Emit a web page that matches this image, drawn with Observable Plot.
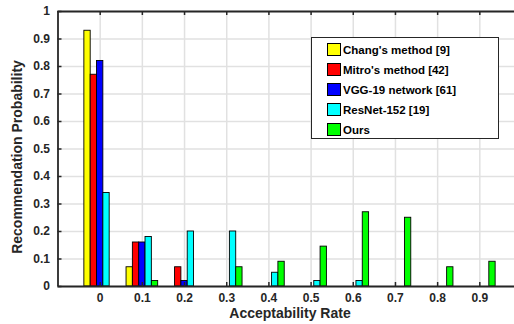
<!DOCTYPE html>
<html>
<head>
<meta charset="utf-8">
<script src="https://cdn.jsdelivr.net/npm/d3@7"></script>
<script src="https://cdn.jsdelivr.net/npm/@observablehq/plot@0.6"></script>
<style>
  body { margin: 0; background: #fff; }
  #wrap { position: relative; width: 514px; height: 324px; overflow: hidden; font-family: "Liberation Sans", Arial, sans-serif; }
  #legend { position: absolute; left: 311px; top: 37px; width: 188px; height: 102px; border: 1.5px solid #262626; background: #fff; box-sizing: border-box; }
  .item { position: absolute; left: 15px; height: 14px; display: flex; align-items: center; font-weight: bold; font-size: 11.5px; color: #000; white-space: nowrap; }
  .sw { width: 14px; height: 13px; border: 1px solid #000; margin-right: 2px; box-sizing: border-box; }
</style>
</head>
<body>
<div id="wrap"></div>
<script>
const rates = [0, 0.1, 0.2, 0.3, 0.4, 0.5, 0.6, 0.7, 0.8, 0.9];
const yTicks = [0, 0.1, 0.2, 0.3, 0.4, 0.5, 0.6, 0.7, 0.8, 0.9, 1];
const seriesNames = ["Chang's method [9]", "Mitro's method [42]", "VGG-19 network [61]", "ResNet-152 [19]", "Ours"];
const seriesColors = ["#ffff00", "#ff0000", "#0000ff", "#00ffff", "#00ff00"];
const chang  = [0.93, 0.07, 0,    0,    0,    0,     0,    0,    0,    0];
const mitro  = [0.77, 0.16, 0.07, 0,    0,    0,     0,    0,    0,    0];
const vgg    = [0.82, 0.16, 0.02, 0,    0,    0,     0,    0,    0,    0];
const resnet = [0.34, 0.18, 0.20, 0.20, 0.05, 0.02,  0.02, 0,    0,    0];
const ours   = [0,    0.02, 0,    0.07, 0.09, 0.145, 0.27, 0.25, 0.07, 0.09];
const allSeries = [chang, mitro, vgg, resnet, ours];

const rows = [];
allSeries.forEach((vals, i) => vals.forEach((v, j) => {
  if (v > 0) rows.push({ rate: rates[j], series: seriesNames[i], idx: i, value: v });
}));

const bw = 0.015;
const W = 514, H = 324;
const mL = 57.5, mT = 11, mB = 38, mR = -7.5;
const plotH = H - mT - mB, plotW = W - mL - mR;
const ink = "#262626";
const gridC = "#e1e1e1";
const fmt = d3.format("");

const chart = Plot.plot({
  width: W, height: H,
  marginLeft: mL, marginTop: mT, marginBottom: mB, marginRight: mR,
  style: { fontFamily: "'Liberation Sans', Arial, sans-serif", background: "#fff", overflow: "visible" },
  x: { type: "linear", domain: [-0.1, 1.0], axis: null },
  y: { domain: [0, 1], axis: null },
  color: { domain: seriesNames, range: seriesColors },
  marks: [
    Plot.ruleX(rates, { x: d => d, stroke: gridC, strokeWidth: 1.5 }),
    Plot.ruleY(yTicks, { y: d => d, stroke: gridC, strokeWidth: 1.5 }),
    Plot.rectY(rows, {
      x1: d => d.rate + (d.idx - 2.5) * bw,
      x2: d => d.rate + (d.idx - 1.5) * bw,
      y1: 0, y2: "value",
      fill: "series", stroke: "#000", strokeWidth: 0.9
    }),
    Plot.tickX(rates, { x: d => d, insetTop: plotH - 4, stroke: ink, strokeWidth: 1.5 }),
    Plot.tickX(rates, { x: d => d, insetBottom: plotH - 4, stroke: ink, strokeWidth: 1.5 }),
    Plot.tickY(yTicks, { y: d => d, insetRight: plotW - 4, stroke: ink, strokeWidth: 1.5 }),
    Plot.ruleY([0, 1], { stroke: ink, strokeWidth: 1.8 }),
    Plot.ruleX([-0.1], { stroke: ink, strokeWidth: 1.8 }),
    Plot.text(rates, { x: d => d, frameAnchor: "bottom", dy: 12, lineAnchor: "middle", text: d => fmt(d), fontSize: 12, fontWeight: "bold", fill: ink }),
    Plot.text(yTicks, { y: d => d, frameAnchor: "left", dx: -8, textAnchor: "end", lineAnchor: "middle", text: d => fmt(d), fontSize: 12, fontWeight: "bold", fill: ink }),
    Plot.text(["Acceptability Rate"], { frameAnchor: "bottom", dy: 27, textAnchor: "middle", lineAnchor: "middle", text: d => d, fontSize: 14, fontWeight: "bold", fill: ink }),
    Plot.text(["Recommendation Probability"], { frameAnchor: "left", dx: -40, dy: 8, rotate: -90, textAnchor: "middle", lineAnchor: "middle", text: d => d, fontSize: 14, fontWeight: "bold", fill: ink })
  ]
});

const wrap = document.getElementById("wrap");
wrap.appendChild(chart);

const legend = document.createElement("div");
legend.id = "legend";
seriesNames.forEach((name, i) => {
  const it = document.createElement("div");
  it.className = "item";
  it.style.top = (4.5 + i * 20) + "px";
  const sw = document.createElement("div");
  sw.className = "sw";
  sw.style.background = seriesColors[i];
  const tx = document.createElement("span");
  tx.textContent = name;
  it.appendChild(sw);
  it.appendChild(tx);
  legend.appendChild(it);
});
wrap.appendChild(legend);
</script>
</body>
</html>
